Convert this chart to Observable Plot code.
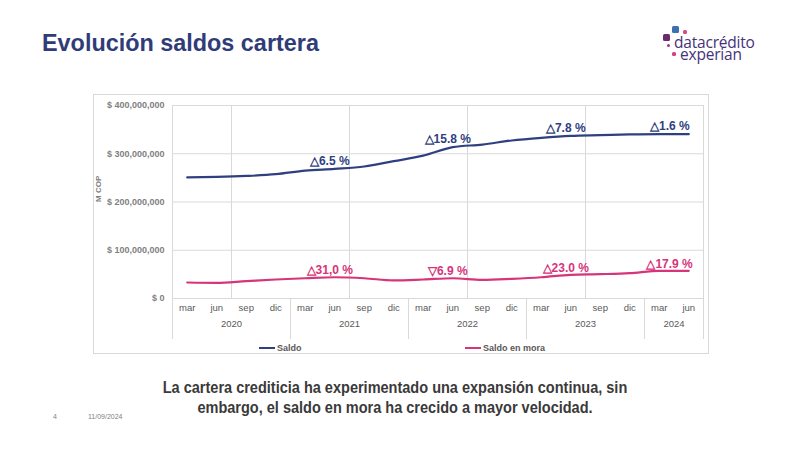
<!DOCTYPE html>
<html>
<head>
<meta charset="utf-8">
<script src="https://cdn.jsdelivr.net/npm/d3@7"></script>
<script src="https://cdn.jsdelivr.net/npm/@observablehq/plot@0.6"></script>
<style>
  html, body { margin: 0; padding: 0; background: #fff; }
  #page { position: relative; width: 801px; height: 451px; overflow: hidden; font-family: "Liberation Sans", Arial, sans-serif; }
  .abs { position: absolute; }
  #title { left: 42px; top: 32px; font-size: 23.4px; line-height: 23px; font-weight: bold; color: #303c78; white-space: nowrap; }
  #frame { left: 93px; top: 94px; width: 616px; height: 260px; border: 1px solid #d9d9d9; box-sizing: border-box; }
  #chart { left: 0; top: 0; }
  .legend { font-size: 9px; font-weight: bold; color: #595959; display: flex; align-items: center; white-space: nowrap; }
  .swatch { width: 16px; height: 2.5px; margin-right: 2px; }
  #caption { left: 95px; width: 600px; top: 378px; text-align: center; font-weight: bold; font-size: 16px; line-height: 20px; color: #3a3a3a; transform: scaleX(0.907); transform-origin: 300px 0; }
  .foot { font-size: 7px; line-height: 8px; color: #7f7f7f; top: 413px; }
  .sq { position: absolute; border-radius: 1.5px; }
  #logo { left: 680px; top: 36px; text-indent: -6px; font-size: 15.5px; line-height: 12px; color: #45337a; letter-spacing: -0.2px; font-family: "Open Sans", "Liberation Sans", sans-serif; white-space: nowrap; }
</style>
</head>
<body>
<div id="page">
  <div id="title" class="abs">Evolución saldos cartera</div>

  <div class="sq" style="left:672px;top:26px;width:7px;height:7px;background:#3e6fb0"></div>
  <div class="sq" style="left:683px;top:30px;width:4px;height:4px;background:#d9478a"></div>
  <div class="sq" style="left:663px;top:34px;width:7px;height:7px;background:#6b2c6e"></div>
  <div class="sq" style="left:667px;top:44px;width:3px;height:3px;background:#a53283"></div>
  <div class="sq" style="left:672px;top:52px;width:4px;height:4px;background:#d33f80"></div>
  <div id="logo" class="abs">datacrédito<br>experian</div>

  <div id="frame" class="abs"></div>
  <div id="chart" class="abs"></div>

  <div class="abs legend" style="left:259px;top:343px"><div class="swatch" style="background:#2f3f7f"></div>Saldo</div>
  <div class="abs legend" style="left:465px;top:343px"><div class="swatch" style="background:#d6357a"></div>Saldo en mora</div>

  <div id="caption" class="abs">La cartera crediticia ha experimentado una expansión continua, sin<br>embargo, el saldo en mora ha crecido a mayor velocidad.</div>
  <div class="abs foot" style="left:53px">4</div>
  <div class="abs foot" style="left:88px">11/09/2024</div>
</div>
<script>
// ---- data ----
const quarterMonths = ["mar","jun","sep","dic","mar","jun","sep","dic","mar","jun","sep","dic","mar","jun","sep","dic","mar","jun"];
const quarterYears  = ["2020","2020","2020","2020","2021","2021","2021","2021","2022","2022","2022","2022","2023","2023","2023","2023","2024","2024"];
const years = ["2020","2021","2022","2023","2024"];
const saldo = [251e6, 252e6, 254e6, 257.6e6, 265e6, 268.7e6, 273.6e6, 284.6e6, 296e6, 313.6e6, 319e6, 327.5e6, 333e6, 337e6, 338.5e6, 340e6, 340.6e6, 340.6e6];
const saldoMora = [33.2e6, 32.5e6, 36e6, 39.4e6, 42e6, 44e6, 42e6, 37.5e6, 39.4e6, 42e6, 38.7e6, 40.8e6, 44e6, 49e6, 50.4e6, 52.5e6, 57.4e6, 57.4e6];
const yTicks = [0, 100e6, 200e6, 300e6, 400e6];
const saldoLabels = [
  {month: "jun", year: "2021", text: "△6.5 %"},
  {month: "jun", year: "2022", text: "△15.8 %"},
  {month: "jun", year: "2023", text: "△7.8 %"},
  {month: "jun", year: "2024", text: "△1.6 %"}
];
const moraLabels = [
  {month: "jun", year: "2021", text: "△31,0 %"},
  {month: "jun", year: "2022", text: "▽6.9 %"},
  {month: "jun", year: "2023", text: "△23.0 %"},
  {month: "jun", year: "2024", text: "△17.9 %"}
];

// ---- derived tables ----
const idx = (m, y) => quarterMonths.findIndex((mm, i) => mm === m && quarterYears[i] === y);
const rows = quarterMonths.map((m, i) => ({i, x: i + 0.5, month: m, year: quarterYears[i], saldo: saldo[i], mora: saldoMora[i]}));
const yearSpans = years.map(y => {
  const ii = quarterYears.map((yy, i) => yy === y ? i : -1).filter(i => i >= 0);
  return {year: y, start: ii[0], end: ii[ii.length - 1] + 1};
});
const boundaries = [0, ...yearSpans.map(d => d.end)];
const gridX = quarterMonths.map((m, i) => m === "sep" ? i : null).filter(v => v !== null);
const lab = (arr, key) => arr.map(d => { const i = idx(d.month, d.year); return {...d, x: i + 0.5, y: rows[i][key]}; });
const sL = lab(saldoLabels, "saldo"), mL = lab(moraLabels, "mora");
const lastYear = years[years.length - 1];

const BLUE = "#2f3f7f", PINK = "#d6357a", GRID = "#d9d9d9";
const fmt = d => "$ " + d3.format(",")(d);

const plot = Plot.plot({
  width: 801, height: 451,
  marginLeft: 172, marginRight: 98, marginTop: 105, marginBottom: 153,
  style: {fontFamily: "'Liberation Sans', Arial, sans-serif", background: "transparent", overflow: "visible"},
  x: {type: "linear", domain: [0, quarterMonths.length], axis: null},
  y: {domain: [0, 400e6], axis: null},
  marks: [
    Plot.ruleY(yTicks, {stroke: GRID, strokeWidth: 1}),
    Plot.ruleX(gridX, {stroke: GRID, strokeWidth: 1}),
    Plot.frame({stroke: GRID}),
    Plot.ruleX(boundaries, {stroke: GRID, insetTop: 193, insetBottom: -41}),
    Plot.axisY({ticks: yTicks, tickFormat: fmt, tickSize: 0, tickPadding: 8, fontSize: 9, fontWeight: "bold", fill: "#7f7f7f", label: null}),
    Plot.text(["M COP"], {frameAnchor: "left", rotate: -90, dx: -74, fontSize: 8, fontWeight: "bold", fill: "#7f7f7f", text: d => d}),
    Plot.text(rows, {x: "x", text: "month", frameAnchor: "bottom", dy: 12, fontSize: 9.5, fill: "#595959"}),
    Plot.text(yearSpans, {x: d => (d.start + d.end) / 2, text: "year", frameAnchor: "bottom", dy: 28, fontSize: 9.5, fill: "#595959"}),
    Plot.line(rows, {x: "x", y: "saldo", stroke: BLUE, strokeWidth: 2.2, curve: "monotone-x"}),
    Plot.line(rows, {x: "x", y: "mora", stroke: PINK, strokeWidth: 2.2, curve: "monotone-x"}),
    Plot.text(sL.filter(d => d.year !== lastYear), {x: "x", y: "y", text: "text", dx: -5, dy: -8, fontSize: 12, fontWeight: "bold", fill: BLUE}),
    Plot.text(sL.filter(d => d.year === lastYear), {x: "x", y: "y", text: "text", textAnchor: "end", dx: 1, dy: -8, fontSize: 12, fontWeight: "bold", fill: BLUE}),
    Plot.text(mL.filter(d => d.year !== lastYear), {x: "x", y: "y", text: "text", dx: -5, dy: -7, fontSize: 12, fontWeight: "bold", fill: PINK}),
    Plot.text(mL.filter(d => d.year === lastYear), {x: "x", y: "y", text: "text", textAnchor: "end", dx: 4, dy: -7, fontSize: 12, fontWeight: "bold", fill: PINK})
  ]
});
document.getElementById("chart").appendChild(plot);
</script>
</body>
</html>
